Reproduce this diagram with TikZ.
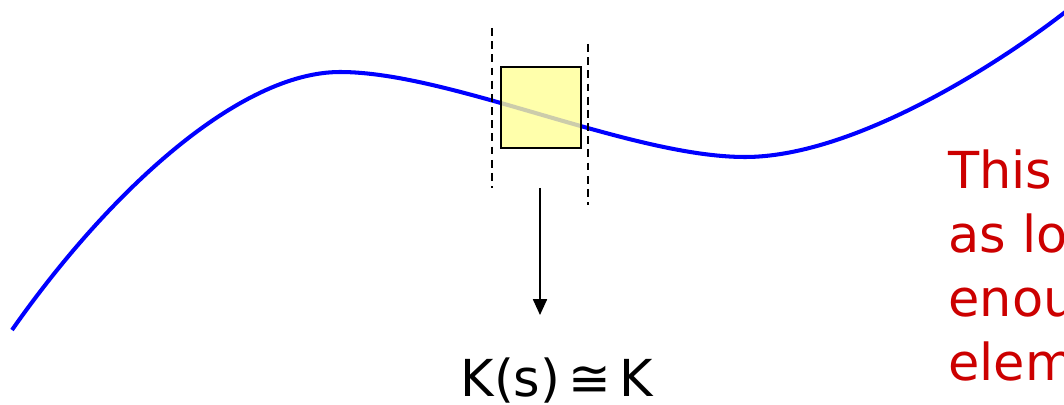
\documentclass[tikz,border=0pt]{standalone}
\usepackage{fontspec}
\setmainfont{DejaVu Sans}
\usetikzlibrary{arrows.meta}
\definecolor{curveblue}{RGB}{0,0,255}
\definecolor{notered}{RGB}{204,0,0}
\definecolor{boxyellow}{RGB}{255,255,150}

\begin{document}
\begin{tikzpicture}[x=0.02cm, y=-0.02cm,
    curve/.style={draw=curveblue, line width=2.3pt},
    elem/.style={draw, line width=1pt, fill=boxyellow, fill opacity=0.8, draw opacity=1, minimum width=1.6cm, minimum height=1.62cm, inner sep=0pt},
    bound/.style={dash pattern=on 4.5pt off 3pt, line width=0.9pt},
    arr/.style={-{Triangle[length=9pt,width=8pt]}, line width=0.85pt},
    note/.style={text=notered, font=\fontsize{29}{36.5}\selectfont, align=left, anchor=north west, inner sep=0pt}
]
\useasboundingbox (0,0) rectangle (1064,405);
\clip (0,0) rectangle (1064,405);

% the function
\draw[curve] (12,330) .. controls (110,190) and (240,72) .. (340,72)
    .. controls (450,72) and (630,157) .. (745,157)
    .. controls (850,157) and (990,70) .. (1064,13) -- (1080,0);

% small element
\node[elem] (elem) at (541,107.5) {};
\coordinate (lefttop) at (492,28);
\coordinate (leftbot) at (492,188);
\coordinate (righttop) at (588,44);
\coordinate (rightbot) at (588,205);
\draw[bound] (lefttop) -- (leftbot);
\draw[bound] (righttop) -- (rightbot);

\coordinate (arrtop) at (540,188);
\coordinate (arrtip) at (540,315);
\draw[arr] (arrtop) -- (arrtip);
\node[anchor=base, font=\fontsize{29}{34}\selectfont] (approx) at (557,396) {K(s)\,≅\,K};

\node[note] (remark) at (948,149) {This\\as long\\enough\\element};
\end{tikzpicture}
\end{document}
